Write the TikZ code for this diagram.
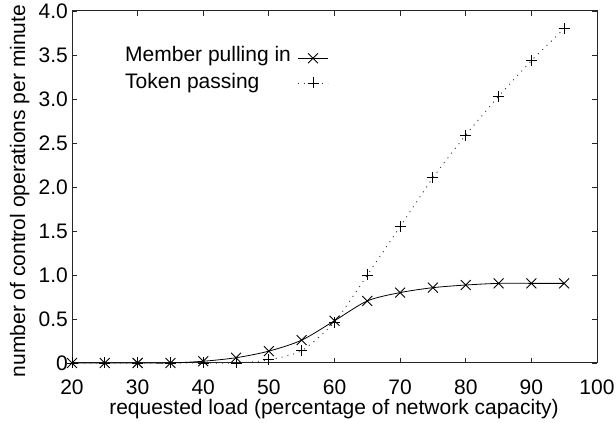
\documentclass[tikz,border=0pt]{standalone}
\usepackage{fontspec}
\setmainfont{Liberation Sans}
\usetikzlibrary{plotmarks}
\begin{document}
\begin{tikzpicture}[x=1pt,y=1pt,
  font=\fontsize{21}{24}\selectfont,
  axisline/.style={line width=1pt,black!85},
  tickline/.style={line width=0.8pt,black!85},
  ticklab/.style={inner sep=0pt},
  member/.style={line width=0.8pt,black},
  token/.style={line width=0.9pt,black!80,dash pattern=on 1pt off 5pt},
  xmark/.style={mark=x,mark size=7pt,mark options={solid,line width=0.9pt,black}},
  pmark/.style={mark=+,mark size=5.5pt,mark options={solid,line width=0.9pt,black}}]
\useasboundingbox (0,0) rectangle (616,423);
% plot box
\draw[axisline] (72,60) rectangle (597,412);
\begin{scope}[shift={(-59.25pt,60pt)},x=6.5625pt,y=88pt]
  % y ticks
  \foreach \v/\t [count=\i] in {0/0,0.5/0.5,1/1.0,1.5/1.5,2/2.0,2.5/2.5,3/3.0,3.5/3.5,4/4.0}{
    \draw[tickline] (20,\v) -- ++(5pt,0);
    \draw[tickline] (100,\v) -- ++(-5pt,0);
    \node[ticklab,anchor=east] (yl\i) at ([xshift=-4pt]20,\v) {\t};
  }
  % x ticks
  \foreach \v [count=\i] in {20,30,...,100}{
    \draw[tickline] (\v,0) -- ++(0,5pt);
    \draw[tickline] (\v,4) -- ++(0,-5pt);
    \node[ticklab,anchor=north] (xl\i) at ([yshift=-17pt]\v,0) {\v};
  }
  % Token passing
  \draw[token] plot[smooth,tension=0.4,pmark] coordinates {
    (20,0) (25,0) (30,0) (35,0) (40,0) (45,0) (50,0.035) (55,0.14)
    (60,0.465) (65,1.0) (70,1.55) (75,2.105) (80,2.59) (85,3.03) (90,3.435) (95,3.8)};
  % Member pulling in
  \draw[member] plot[smooth,xmark] coordinates {
    (20,0) (25,0) (30,0) (35,0) (40,0.02) (45,0.06) (50,0.135) (55,0.26)
    (60,0.48) (65,0.705) (70,0.80) (75,0.856) (80,0.886) (85,0.905) (90,0.905) (95,0.905)};
\end{scope}
% legend
\node[anchor=base west,inner sep=0pt] (legm) at (125,361) {Member pulling in};
\node[anchor=base west,inner sep=0pt] (legt) at (125,334.7) {Token passing};
\coordinate (lms) at (298,364.7);
\coordinate (lme) at (328,364.7);
\coordinate (lmc) at (313,364.7);
\coordinate (lts) at (298,340);
\coordinate (lte) at (328,340);
\coordinate (ltc) at (313,340);
\draw[member] (lms) -- (lme);
\draw[member] plot[xmark] coordinates {(lmc)};
\draw[token] (lts) -- (lte);
\draw[token] plot[pmark] coordinates {(ltc)};
% axis labels
\node[anchor=base,inner sep=0pt] (xlab) at (334,8) {requested load (percentage of network capacity)};
\node[anchor=base,inner sep=0pt,rotate=90] (ylab) at (25,232) {number of control operations per minute};
\end{tikzpicture}
\end{document}
